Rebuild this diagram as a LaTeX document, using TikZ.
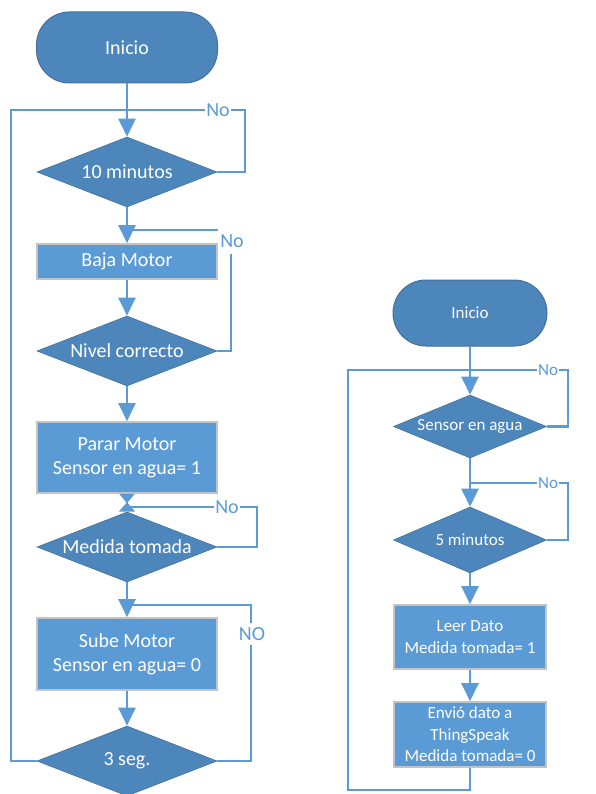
\documentclass[tikz,border=0pt]{standalone}
\usepackage{fontspec}
\setmainfont{Carlito}
\usetikzlibrary{shapes.geometric,arrows.meta}
\definecolor{darkfill}{RGB}{77,134,187}
\definecolor{darkedge}{RGB}{65,113,156}
\definecolor{boxfill}{RGB}{91,155,213}
\definecolor{boxedge}{RGB}{195,195,195}
\definecolor{linecol}{RGB}{91,155,213}
\tikzset{
  x=1pt, y=-1pt,
  bigtxt/.style={font=\fontsize{20}{24}\selectfont},
  smalltxt/.style={font=\fontsize{17}{21.5}\selectfont},
  terminal/.style={rectangle, rounded corners=33pt, fill=darkfill, draw=darkedge, line width=1pt, text=white, inner sep=0pt},
  decision/.style={diamond, fill=darkfill, draw=darkedge, line width=0.6pt, text=white, inner sep=0pt},
  process/.style={rectangle, fill=boxfill, draw=boxedge, line width=1.6pt, text=white, inner sep=0pt, align=center},
  conn/.style={draw=linecol, line width=2.2pt},
  arr/.style={conn, -{Triangle[length=18pt,width=17pt]}},
  hour/.style={conn, {Triangle[reversed,length=9.5pt,width=15pt]}-{Triangle[reversed,length=9.5pt,width=16pt]}},
  lab/.style={fill=white, text=linecol, inner sep=1pt},
}
\begin{document}
\begin{tikzpicture}
\useasboundingbox (0,0) rectangle (595,794);
\fill[white] (0,0) rectangle (595,794);

% ---------- left chart ----------
\node[terminal, bigtxt, minimum width=181pt, minimum height=71pt] (ini1) at (127,47.5) {Inicio};
\node[decision, bigtxt, minimum width=180pt, minimum height=70pt] (d10) at (127,172) {\makebox[0pt]{10 minutos}};
\node[process, bigtxt, minimum width=180pt, minimum height=35pt] (baja) at (127,261.5) {Baja Motor};
\node[decision, bigtxt, minimum width=180pt, minimum height=70pt] (nivel) at (127,351) {\makebox[0pt]{Nivel correcto}};
\node[process, bigtxt, minimum width=180pt, minimum height=71pt] (parar) at (127,457.5) {Parar Motor\\Sensor en agua= 1};
\node[decision, bigtxt, minimum width=180pt, minimum height=70pt] (medida) at (127,547) {\makebox[0pt]{Medida tomada}};
\node[process, bigtxt, minimum width=180pt, minimum height=72pt] (sube) at (127,654) {Sube Motor\\Sensor en agua= 0};
\node[decision, bigtxt, minimum width=180pt, minimum height=70pt] (seg) at (127,761) {\makebox[0pt]{3 seg.}};

\coordinate (j1) at (127,110);
\coordinate (L1) at (11,110);
\coordinate (r1) at (245,110);
\coordinate (j2) at (127,230);
\coordinate (r2) at (231,230);
\coordinate (j3) at (127,507);
\coordinate (r3) at (257,507);
\coordinate (j4) at (127,605);
\coordinate (r4) at (251,605);

\draw[arr] (ini1.south) -- (d10.north);
\draw[conn] (seg.west) -| (L1) -- (j1);
\draw[conn] (d10.east) -| (r1) -- (j1);
\draw[arr] (d10.south) -- (baja.north);
\draw[conn] (nivel.east) -| (r2) -- (j2);
\draw[arr] (baja.south) -- (nivel.north);
\draw[arr] (nivel.south) -- (parar.north);
\draw[conn] (medida.east) -| (r3) -- (j3);
\draw[hour] (parar.south) -- (medida.north);
\draw[conn] (seg.east) -| (r4) -- (j4);
\draw[arr] (medida.south) -- (sube.north);
\draw[arr] (sube.south) -- (seg.north);

\node[lab, bigtxt] (no1) at (218,110) {No};
\node[lab, bigtxt, minimum width=28pt, minimum height=26pt] (no2) at (232,241) {No};
\node[lab, bigtxt] (no3) at (227,507) {No};
\node[lab, bigtxt, inner ysep=4pt] (no4) at (252,634) {NO};

% ---------- right chart ----------
\node[terminal, smalltxt, minimum width=154pt, minimum height=66pt] (ini2) at (470,313) {Inicio};
\node[decision, smalltxt, minimum width=153pt, minimum height=63pt] (sens) at (470,426.5) {\makebox[0pt]{Sensor en agua}};
\node[decision, smalltxt, minimum width=153pt, minimum height=66pt] (min5) at (470,540) {\makebox[0pt]{5 minutos}};
\node[process, smalltxt, minimum width=152pt, minimum height=64pt] (leer) at (470,637) {Leer Dato\\Medida tomada= 1};
\node[process, smalltxt, minimum width=152pt, minimum height=65pt] (envio) at (470,734.5) {Envió dato a\\ThingSpeak\\Medida tomada= 0};

\coordinate (k1) at (470,370);
\coordinate (s1) at (568,370);
\coordinate (k2) at (470,483);
\coordinate (s2) at (568,483);
\coordinate (b2) at (470,790);
\coordinate (L2) at (348,370);

\draw[arr] (ini2.south) -- (sens.north);
\draw[conn] (sens.east) -| (s1) -- (k1);
\draw[conn] (envio.south) -- (b2) -| (L2) -- (k1);
\draw[arr] (sens.south) -- (min5.north);
\draw[conn] (min5.east) -| (s2) -- (k2);
\draw[arr] (min5.south) -- (leer.north);
\draw[arr] (leer.south) -- (envio.north);

\node[lab, font=\fontsize{17}{20}\selectfont] (no5) at (548,370) {No};
\node[lab, font=\fontsize{17}{20}\selectfont] (no6) at (548,483) {No};
\end{tikzpicture}
\end{document}
